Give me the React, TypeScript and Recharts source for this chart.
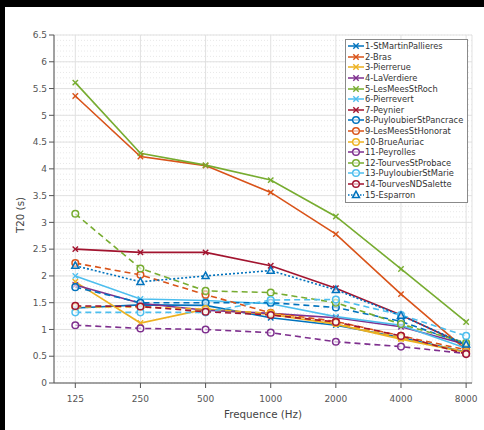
import React from 'react';
import { LineChart, Line, XAxis, YAxis, CartesianGrid, ReferenceLine, Label } from 'recharts';

const FREQS = ['125', '250', '500', '1000', '2000', '4000', '8000'];

const NAMES = [
  '1-StMartinPallieres', '2-Bras', '3-Pierrerue', '4-LaVerdiere', '5-LesMeesStRoch',
  '6-Pierrevert', '7-Peynier', '8-PuyloubierStPancrace', '9-LesMeesStHonorat', '10-BrueAuriac',
  '11-Peyrolles', '12-TourvesStProbace', '13-PuyloubierStMarie', '14-TourvesNDSalette', '15-Esparron',
];

const S1 = [1.40, 1.46, 1.45, 1.22, 1.08, 0.85, 0.58];
const S2 = [5.36, 4.23, 4.06, 3.56, 2.78, 1.66, 0.62];
const S3 = [1.89, 1.12, 1.38, 1.28, 1.10, 0.82, 0.57];
const S4 = [1.83, 1.49, 1.36, 1.30, 1.22, 1.05, 0.72];
const S5 = [5.61, 4.29, 4.07, 3.79, 3.11, 2.13, 1.14];
const S6 = [2.00, 1.57, 1.54, 1.48, 1.24, 1.08, 0.65];
const S7 = [2.50, 2.44, 2.44, 2.19, 1.77, 1.27, 0.70];
const S8 = [1.79, 1.50, 1.50, 1.50, 1.41, 1.15, 0.72];
const S9 = [2.24, 2.02, 1.65, 1.31, 1.15, 0.88, 0.62];
const S10 = [1.42, 1.42, 1.38, 1.30, 1.12, 0.85, 0.58];
const S11 = [1.08, 1.02, 1.00, 0.94, 0.77, 0.68, 0.55];
const S12 = [3.16, 2.14, 1.72, 1.69, 1.50, 1.10, 0.75];
const S13 = [1.32, 1.32, 1.32, 1.55, 1.56, 1.27, 0.88];
const S14 = [1.44, 1.43, 1.33, 1.27, 1.14, 0.88, 0.54];
const S15 = [2.19, 1.89, 2.00, 2.10, 1.74, 1.26, 0.72];

const ALL = [S1, S2, S3, S4, S5, S6, S7, S8, S9, S10, S11, S12, S13, S14, S15];

const PALETTE = ['#0072BD', '#D95319', '#EDB120', '#7E2F8E', '#77AC30', '#4DBEEE', '#A2142F'];

const Y_TICKS = [0, 0.5, 1, 1.5, 2, 2.5, 3, 3.5, 4, 4.5, 5, 5.5, 6, 6.5];
const MINOR_TICKS = Array.from({ length: 66 }, (_, k) => k / 10);

type Kind = 'x' | 'o' | 't';

const series = NAMES.map((name, k) => {
  const kind: Kind = k < 7 ? 'x' : k < 14 ? 'o' : 't';
  return {
    key: 's' + (k + 1),
    name,
    color: PALETTE[k % 7],
    kind,
    dash: kind === 'x' ? undefined : kind === 'o' ? '6 4' : '2 2',
  };
});

const data = FREQS.map((f, i) => {
  const row: Record<string, number | string> = { i, f };
  ALL.forEach((arr, k) => {
    row['s' + (k + 1)] = arr[i];
  });
  return row;
});

const Marker = ({ cx, cy, kind, color }: { cx: number; cy: number; kind: Kind; color: string }) => {
  if (kind === 'x') {
    const d = 2.7;
    return (
      <g stroke={color} strokeWidth={1.4}>
        <line x1={cx - d} y1={cy - d} x2={cx + d} y2={cy + d} />
        <line x1={cx - d} y1={cy + d} x2={cx + d} y2={cy - d} />
      </g>
    );
  }
  if (kind === 'o') {
    return <circle cx={cx} cy={cy} r={3.3} fill="#fff" fillOpacity={0.6} stroke={color} strokeWidth={1.5} />;
  }
  return (
    <polygon
      points={`${cx},${cy - 3.8} ${cx - 3.5},${cy + 2.6} ${cx + 3.5},${cy + 2.6}`}
      fill="#fff"
      fillOpacity={0.5}
      stroke={color}
      strokeWidth={1.5}
    />
  );
};

const LegendBox = () => (
  <div
    style={{
      position: 'absolute',
      left: 345,
      top: 39,
      border: '1px solid #8a8a8a',
      background: '#fff',
      width: 121,
      padding: '1px 0 2px 0',
      fontFamily: '"DejaVu Sans", sans-serif',
      fontSize: 8.3,
      color: '#333',
    }}
  >
    {series.map((s) => (
      <div key={s.key} style={{ display: 'flex', alignItems: 'center', height: 10.6 }}>
        <svg width={18} height={10} style={{ marginLeft: 1 }}>
          <line
            x1={1}
            y1={5}
            x2={17}
            y2={5}
            stroke={s.color}
            strokeWidth={1.5}
            strokeDasharray={s.dash === '2 2' ? '1.5 1.5' : s.dash === '6 4' ? '4 2' : undefined}
          />
          <Marker cx={9} cy={5} kind={s.kind} color={s.color} />
        </svg>
        <span style={{ whiteSpace: 'nowrap', lineHeight: '10px' }}>{s.name}</span>
      </div>
    ))}
  </div>
);

export default function App() {
  return (
    <div style={{ position: 'absolute', left: 0, top: 0, width: 484, height: 430, background: '#000', overflow: 'hidden' }}>
      <div style={{ position: 'absolute', left: 5, top: 7, width: 479, height: 423, background: '#fff' }} />
      <div style={{ position: 'absolute', left: 0, top: 0 }}>
        <LineChart
          width={484}
          height={430}
          data={data}
          margin={{ top: 35, right: 12, bottom: 17, left: 14 }}
          style={{ fontFamily: '"DejaVu Sans", sans-serif' }}
        >
          {MINOR_TICKS.map((v) => (
            <ReferenceLine key={'m' + v} y={v} stroke="#e2e2e2" strokeWidth={0.8} strokeDasharray="1 2" />
          ))}
          <CartesianGrid stroke="#dedede" strokeWidth={0.9} />
          <YAxis
            yAxisId="minor"
            type="number"
            domain={[0, 6.5]}
            ticks={MINOR_TICKS}
            interval={0}
            tickFormatter={() => ''}
            width={0}
            tickSize={3}
            axisLine={false}
            tickLine={{ stroke: '#555' }}
          />
          <XAxis
            dataKey="i"
            type="number"
            domain={[-0.327, 6.09]}
            ticks={[0, 1, 2, 3, 4, 5, 6]}
            tickFormatter={(i: number) => FREQS[i]}
            allowDataOverflow
            height={30}
            tickSize={5}
            tickMargin={8}
            stroke="#555"
            tick={{ fill: '#555', fontSize: 9 }}
          >
            <Label value="Frequence (Hz)" position="insideBottom" offset={-5} fill="#444" fontSize={10.3} />
          </XAxis>
          <YAxis
            type="number"
            domain={[0, 6.5]}
            ticks={Y_TICKS}
            interval={0}
            width={40}
            tickSize={5}
            tickMargin={2}
            stroke="#555"
            tick={{ fill: '#555', fontSize: 9 }}
          >
            <Label
              content={() => (
                <text x={21} y={215} transform="rotate(-90 21 215)" textAnchor="middle" dominantBaseline="middle" fill="#444" fontSize={10.3}>
                  T20 (s)
                </text>
              )}
            />
          </YAxis>
          {series.map((s) => (
            <Line
              key={s.key}
              dataKey={s.key}
              name={s.name}
              type="linear"
              stroke={s.color}
              strokeWidth={1.6}
              strokeDasharray={s.dash}
              isAnimationActive={false}
              dot={(p: any) => <Marker key={s.key + p.index} cx={p.cx} cy={p.cy} kind={s.kind} color={s.color} />}
              activeDot={false}
            />
          ))}
        </LineChart>
      </div>
      <LegendBox />
    </div>
  );
}
